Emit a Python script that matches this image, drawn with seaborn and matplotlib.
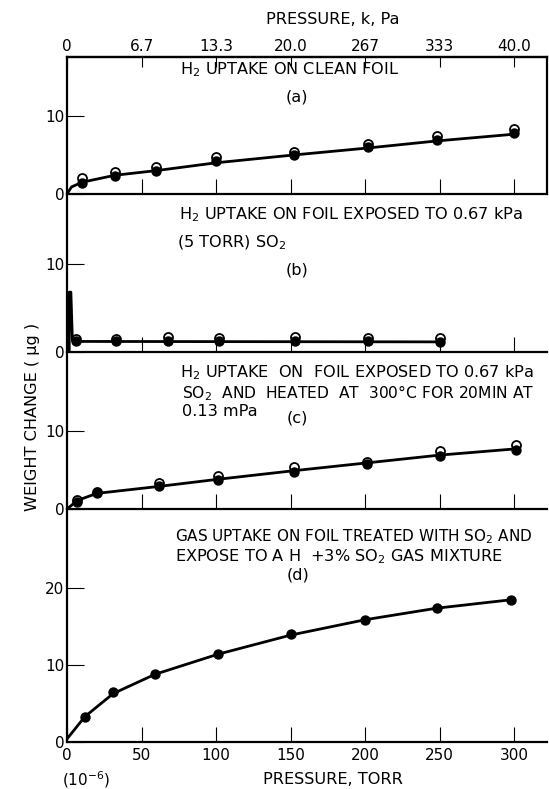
import matplotlib
matplotlib.use("Agg")
import matplotlib.pyplot as plt
import seaborn as sns
import pandas as pd

sns.set_theme(style="ticks")
plt.rcParams['font.family'] = ['DejaVu Sans']
plt.rcParams['mathtext.fontset'] = 'dejavusans'

# ---------------- data ----------------
# panel (a) H2 uptake on clean foil
P_A = [10, 32, 60, 100, 152, 202, 248, 300]
A_OPEN = [2.0, 2.8, 3.5, 4.8, 5.4, 6.4, 7.4, 8.3]
A_FILLED = [1.4, 2.3, 3.0, 4.2, 5.0, 6.0, 6.9, 7.8]
A_CURVE_X = [0, 3, 10, 32, 60, 100, 152, 202, 248, 302]
A_CURVE_Y = [0, 0.9, 1.5, 2.4, 3.0, 4.0, 5.0, 5.9, 6.8, 7.7]

# panel (b) foil exposed to SO2
P_B = [6, 33, 68, 102, 153, 202, 250]
B_OPEN = [1.5, 1.5, 1.7, 1.6, 1.7, 1.6, 1.6]
B_FILLED = [1.2, 1.2, 1.2, 1.2, 1.2, 1.2, 1.1]
B_CURVE_X = [1.5, 1.5, 2.6, 3.6, 6, 250]
B_CURVE_Y = [0, 6.8, 6.8, 1.4, 1.2, 1.15]

# panel (c) exposed to SO2 and heated
P_C = [7, 20, 62, 101, 152, 201, 250, 301]
C_OPEN = [1.2, 2.2, 3.3, 4.2, 5.4, 6.0, 7.4, 8.2]
C_FILLED = [0.9, 2.0, 2.9, 3.7, 4.8, 5.8, 6.8, 7.6]
C_CURVE_X = [0, 7, 20, 62, 101, 152, 201, 250, 301]
C_CURVE_Y = [0, 1.1, 2.0, 2.9, 3.8, 4.9, 5.9, 6.9, 7.7]

# panel (d) gas uptake, H2 + 3% SO2
P_D = [12, 31, 59, 101, 150, 200, 248, 298]
D_FILLED = [3.2, 6.5, 8.9, 11.5, 14.0, 15.9, 17.4, 18.5]
D_CURVE_X = [0, 12, 31, 59, 101, 150, 200, 248, 298]
D_CURVE_Y = [0.4, 3.3, 6.3, 8.8, 11.4, 13.9, 15.9, 17.4, 18.5]

X_TICKS = [0, 50, 100, 150, 200, 250, 300]
KPA_TICKS = [0, 6.667, 13.333, 20.0, 26.667, 33.333, 40.0]
KPA_LABELS = ["0", "6.7", "13.3", "20.0", "267", "333", "40.0"]

# ---------------- layout ----------------
W_PX, H_PX = 549, 789
fig = plt.figure(figsize=(W_PX / 100, H_PX / 100), dpi=100)
fig.patch.set_facecolor("white")

def fx(x):
    return x / W_PX

def fy(y):
    return 1 - y / H_PX

TICK_FS = 11
FS = 11.6

LEFT, RIGHT = 67, 547
panels = [  # (top px, bottom px, ymax, yticks)
    (57, 194, 17.56, [0, 10]),
    (194, 352, 17.95, [0, 10]),
    (352, 509, 20.1, [0, 10]),
    (509, 742, 30.3, [0, 10, 20]),
]
axes = []
for top, bot, ymax, yt in panels:
    ax = fig.add_axes([fx(LEFT), fy(bot), fx(RIGHT - LEFT), (bot - top) / H_PX])
    ax.set_xlim(0, 322)
    ax.set_ylim(0, ymax)
    ax.set_facecolor("none")
    ax.set_yticks(yt)
    ax.set_yticklabels([str(v) for v in yt])
    ax.tick_params(axis="y", direction="in", length=12, width=0.8, pad=2,
                   labelsize=TICK_FS, colors="black")
    ax.tick_params(axis="x", direction="in", length=11, width=0.8, pad=4,
                   labelsize=TICK_FS, colors="black")
    for s in ["left", "bottom", "top", "right"]:
        ax.spines[s].set_linewidth(1.6)
        ax.spines[s].set_color("black")
    ax.spines["top"].set_visible(False)
    ax.spines["right"].set_visible(False)
    axes.append(ax)

ax_a, ax_b, ax_c, ax_d = axes
for ax in (ax_a, ax_b, ax_c):
    ax.set_xticks(X_TICKS[1:])
    ax.tick_params(axis="x", labelbottom=False)
ax_d.set_xticks(X_TICKS)
ax_d.set_xticklabels([str(v) for v in X_TICKS])
ax_a.spines["top"].set_visible(True)
ax_a.spines["right"].set_visible(True)

# secondary top axis in kPa
sec = ax_a.secondary_xaxis("top", functions=(lambda t: t * 40.0 / 300.0,
                                              lambda k: k * 300.0 / 40.0))
sec.set_xticks(KPA_TICKS)
sec.set_xticklabels(KPA_LABELS)
sec.tick_params(direction="in", length=7, width=0.8, pad=2, labelsize=TICK_FS,
                colors="black")
sec.spines["top"].set_linewidth(1.6)

# ---------------- marks ----------------
LW = 2.0
MS = 42

def curve(ax, xs, ys):
    sns.lineplot(x=xs, y=ys, ax=ax, color="black", linewidth=LW,
                 sort=False, estimator=None, legend=False, zorder=2)

def pts(ax, xs, ys, filled):
    if filled:
        sns.scatterplot(x=xs, y=ys, ax=ax, s=MS, color="black",
                        edgecolor="black", linewidth=1.0, zorder=4,
                        legend=False, clip_on=False)
    else:
        sns.scatterplot(x=xs, y=ys, ax=ax, s=MS, facecolor="white",
                        edgecolor="black", linewidth=1.3, zorder=3,
                        legend=False, clip_on=False)

curve(ax_a, A_CURVE_X, A_CURVE_Y)
pts(ax_a, P_A, A_OPEN, False)
pts(ax_a, P_A, A_FILLED, True)

curve(ax_b, B_CURVE_X, B_CURVE_Y)
pts(ax_b, P_B, B_OPEN, False)
pts(ax_b, P_B, B_FILLED, True)

curve(ax_c, C_CURVE_X, C_CURVE_Y)
pts(ax_c, P_C, C_OPEN, False)
pts(ax_c, P_C, C_FILLED, True)

curve(ax_d, D_CURVE_X, D_CURVE_Y)
pts(ax_d, P_D, D_FILLED, True)

for ax in axes:
    ax.set_xlabel("")
    ax.set_ylabel("")

# ---------------- text ----------------
def T(x, y, s, ha="left", fs=FS, **kw):
    fig.text(fx(x), fy(y), s, ha=ha, va="center", fontsize=fs,
             color="black", **kw)

T(333, 20, "PRESSURE, k, Pa", ha="center")
T(180, 70, r"H$_2$ UPTAKE ON CLEAN FOIL")
T(297, 97, "(a)", ha="center")

T(179, 215, r"H$_2$ UPTAKE ON FOIL EXPOSED TO 0.67 kPa")
T(177, 243, r"(5 TORR) SO$_2$")
T(297, 270, "(b)", ha="center")

T(180, 373, r"H$_2$ UPTAKE  ON  FOIL EXPOSED TO 0.67 kPa")
T(182, 393, r"SO$_2$  AND  HEATED  AT  300°C FOR 20MIN AT", fs=11.2)
T(182, 412, "0.13 mPa")
T(297, 418, "(c)", ha="center")

T(175, 537, r"GAS UPTAKE ON FOIL TREATED WITH SO$_2$ AND", fs=11.0)
T(175, 557, r"EXPOSE TO A H  +3% SO$_2$ GAS MIXTURE")
T(298, 575, "(d)", ha="center")

T(333, 780, "PRESSURE, TORR", ha="center")
T(86, 780, r"(10$^{-6}$)", ha="center", fs=TICK_FS)
fig.text(fx(33), fy(417), "WEIGHT CHANGE ( μg )", rotation=90, ha="center",
         va="center", fontsize=FS, color="black")

fig.savefig("out.png", dpi=100, facecolor="white")
